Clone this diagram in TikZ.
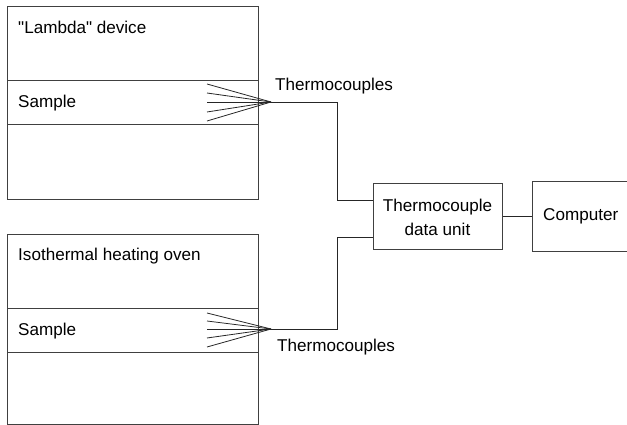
\documentclass[tikz,border=0pt]{standalone}
\usepackage{fontspec}
\setmainfont{Liberation Sans}
\newfontfamily\libsans{Liberation Sans}
\begin{document}
\begin{tikzpicture}[x=1pt,y=-1pt,
  box/.style={draw=black!75, line width=1.1pt, inner sep=0pt, anchor=north west},
  wire/.style={draw=black!85, line width=0.9pt},
  fanline/.style={draw=black!85, line width=0.8pt},
  lbl/.style={font=\libsans\fontsize{17.1}{20}\selectfont, inner sep=0pt, anchor=west}]
\useasboundingbox (0,0) rectangle (627,425);
% top device
\node[box, minimum width=251pt, minimum height=193pt] (dev) at (7,6) {};
\node[box, minimum width=251pt, minimum height=44pt] (s1) at (7,80) {};
\node[lbl] (devlbl) at (18,27) {"Lambda" device};
\node[lbl] (s1lbl) at (18,103) {Sample};
% bottom oven
\node[box, minimum width=251pt, minimum height=190pt] (oven) at (7,234) {};
\node[box, minimum width=251pt, minimum height=44pt] (s2) at (7,308) {};
\node[lbl] (ovenlbl) at (18,256) {Isothermal heating oven};
\node[lbl] (s2lbl) at (18,331) {Sample};
% fans
\coordinate (f1) at (271,102);
\foreach \dy [count=\i] in {-18,-9,0,10,19}{
  \coordinate (a\i) at (207,102+\dy);
  \draw[fanline] (a\i) -- (f1);
}
\coordinate (f2) at (271,329);
\foreach \dy [count=\i] in {-16,-8,0,9,18}{
  \coordinate (b\i) at (207,329+\dy);
  \draw[fanline] (b\i) -- (f2);
}
% data unit and computer
\node[box, minimum width=129pt, minimum height=66pt] (tdu) at (373,183) {};
\node[font=\libsans\fontsize{17.1}{24}\selectfont, align=center, inner sep=0pt] (tdulbl) at (437.5,217) {Thermocouple\\data unit};
\node[box, minimum width=96pt, minimum height=70pt] (comp) at (532,181) {};
\node[lbl] (complbl) at (543,216) {Computer};
% wires
\draw[wire] (f1) -- (337,102) |- ([yshift=16pt]tdu.west);
\draw[wire] (f2) -- (337,329) |- ([yshift=-21pt]tdu.west);
\draw[wire] (tdu.east) -- (tdu.east -| comp.west);
% labels
\node[lbl] (tc1) at (275,86) {Thermocouples};
\node[lbl] (tc2) at (277,347) {Thermocouples};
\end{tikzpicture}
\end{document}
